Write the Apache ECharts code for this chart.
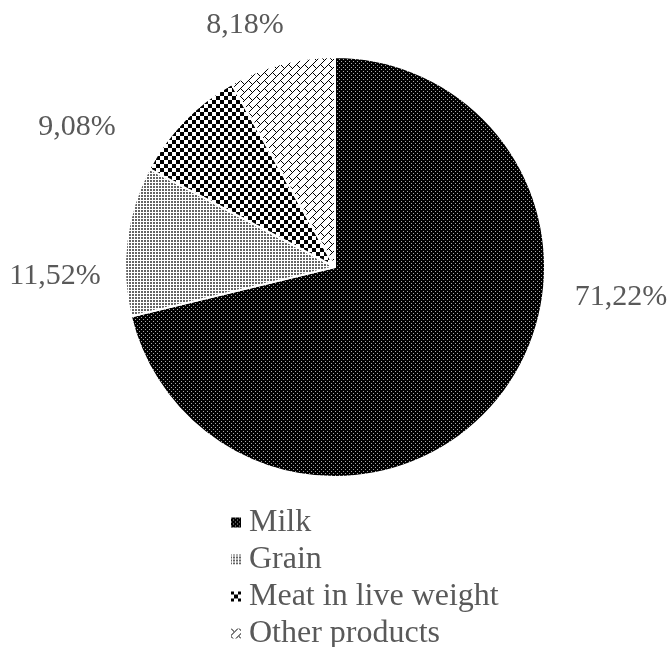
<!DOCTYPE html>
<html>
<head>
<meta charset="utf-8">
<script src="https://cdn.jsdelivr.net/npm/echarts@6/dist/echarts.min.js"></script>
<style>
  html, body { margin: 0; padding: 0; background: #fff; }
  #chart { width: 671px; height: 647px; }
</style>
</head>
<body>
<div id="chart"></div>
<script>
// Structure of agricultural output, share in %
const categories = ['Milk', 'Grain', 'Meat in live weight', 'Other products'];
const shares = [71.22, 11.52, 9.08, 8.18];

// Pie geometry and label placement (px, relative to the pie centre)
const cx = 335, cy = 267, radius = 210;
const labelOffsets = [[286, 30], [-280, 9], [-258, -140], [-90, -242]];

const FONT = "'Liberation Serif', 'Times New Roman', serif";
const TEXT_COLOR = '#595959';

// Build a small repeating tile from a per-pixel colour function
function makeTile(w, h, pixel) {
  const c = document.createElement('canvas');
  c.width = w; c.height = h;
  const ctx = c.getContext('2d');
  const img = ctx.createImageData(w, h);
  for (let y = 0; y < h; y++) {
    for (let x = 0; x < w; x++) {
      const v = pixel(x, y);
      const k = (y * w + x) * 4;
      img.data[k] = v; img.data[k + 1] = v; img.data[k + 2] = v; img.data[k + 3] = 255;
    }
  }
  ctx.putImageData(img, 0, 0);
  return c;
}

// Milk: black with a fine lattice of light dots
const milkTile = makeTile(4, 4, (x, y) => ((x === 1 && y === 1) || (x === 3 && y === 3)) ? 170 : 0);
// Grain: small grey dots on white
const grainTile = makeTile(3, 3, (x, y) => (x < 2 && y < 2) ? 100 : 255);
// Meat: black-and-white checkerboard
const meatTile = makeTile(8, 8, (x, y) => ((Math.floor(x / 4) + Math.floor(y / 4)) % 2 === 0) ? 0 : 255);
// Other: diagonal brick outline
const otherTile = makeTile(16, 16, (x, y) => {
  const s = (x + y) % 8;
  if (s === 0) return 0;
  const band = Math.floor((x + y) / 8) % 2;
  const d = ((x - y) % 16 + 16) % 16;
  if (band === 0 && d === 0) return 0;
  if (band === 1 && d === 8) return 0;
  return 255;
});

const fills = [milkTile, grainTile, meatTile, otherTile].map(t => ({ image: t, repeat: 'repeat' }));

const pieData = categories.map((name, i) => ({
  name,
  value: shares[i],
  itemStyle: { color: fills[i] }
}));

const chart = echarts.init(document.getElementById('chart'), null, { renderer: 'canvas' });

chart.setOption({
  animation: false,
  backgroundColor: '#ffffff',
  legend: {
    orient: 'vertical',
    left: 229,
    top: 504,
    height: 160,
    icon: 'rect',
    itemWidth: 12,
    itemHeight: 12,
    itemGap: 0,
    padding: 0,
    textStyle: {
      fontFamily: FONT,
      fontSize: 32,
      color: TEXT_COLOR,
      lineHeight: 37,
      padding: [0, 0, 0, 2]
    },
    data: categories
  },
  series: [{
    type: 'pie',
    center: [cx, cy],
    radius: radius,
    startAngle: 90,
    clockwise: true,
    silent: true,
    itemStyle: { borderColor: '#ffffff', borderWidth: 2 },
    label: {
      show: true,
      position: 'outside',
      overflow: 'none',
      fontFamily: FONT,
      fontSize: 30,
      color: TEXT_COLOR,
      formatter: p => p.value.toFixed(2).replace('.', ',') + '%'
    },
    labelLine: { show: false },
    labelLayout: params => {
      const o = labelOffsets[params.dataIndex];
      return { x: cx + o[0], y: cy + o[1], align: 'center', verticalAlign: 'middle', hideOverlap: false };
    },
    emphasis: { disabled: true },
    data: pieData
  }]
});
</script>
</body>
</html>
